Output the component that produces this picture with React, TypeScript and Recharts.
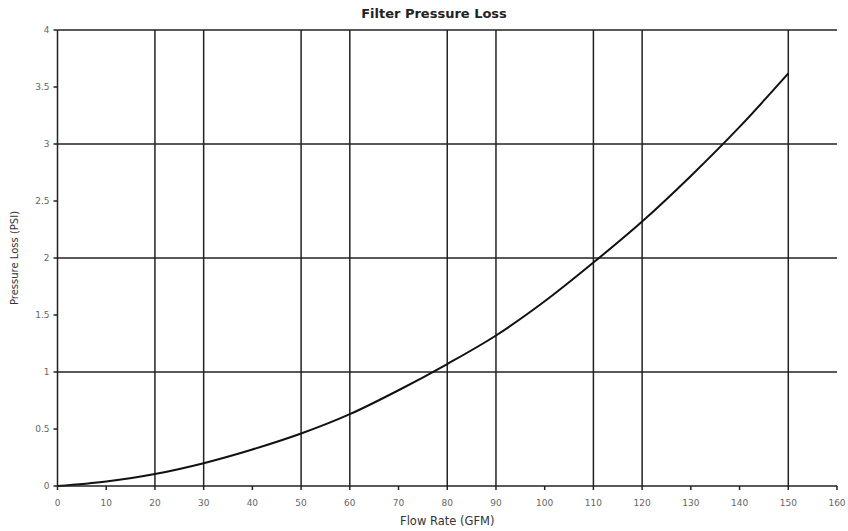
import React from 'react';
import { LineChart, Line, XAxis, YAxis, ReferenceLine } from 'recharts';

const flowRates = [0, 10, 20, 30, 40, 50, 60, 70, 80, 90, 100, 110, 120, 130, 140, 150];
const pressureLoss = [0, 0.04, 0.105, 0.2, 0.32, 0.46, 0.63, 0.84, 1.07, 1.32, 1.62, 1.96, 2.32, 2.72, 3.15, 3.62];

const xTicks = [0, 10, 20, 30, 40, 50, 60, 70, 80, 90, 100, 110, 120, 130, 140, 150, 160];
const yTicks = [0, 0.5, 1, 1.5, 2, 2.5, 3, 3.5, 4];
const xGridLines = [20, 30, 50, 60, 80, 90, 110, 120, 150];
const yGridLines = [1, 2, 3, 4];

const data = flowRates.map((gpm, i) => ({ gpm, psi: pressureLoss[i] }));

const ink = '#222';
const font = 'DejaVu Sans, sans-serif';
const tickStyle = { fill: '#666', fontSize: 9, fontFamily: font };

export default function App() {
  return (
    <div style={{ position: 'absolute', left: 0, top: 0, width: 848, height: 531, background: '#fff' }}>
      <div
        style={{
          position: 'absolute',
          top: 6,
          left: 0,
          width: 868,
          textAlign: 'center',
          fontFamily: font,
          fontSize: 13,
          fontWeight: 'bold',
          color: '#222',
        }}
      >
        Filter Pressure Loss
      </div>
      <LineChart width={848} height={531} data={data} margin={{ top: 30, right: 11, bottom: 0, left: 0 }}>
        <XAxis
          dataKey="gpm"
          type="number"
          domain={[0, 160]}
          ticks={xTicks}
          interval={0}
          tick={tickStyle}
          tickSize={4}
          tickMargin={10}
          height={45}
          axisLine={{ stroke: ink, strokeWidth: 1.5 }}
          tickLine={{ stroke: ink, strokeWidth: 1.5 }}
          label={{ value: 'Flow Rate (GFM)', position: 'insideBottom', offset: 6, fill: '#333', fontSize: 11.5, fontFamily: font }}
        />
        <YAxis
          type="number"
          domain={[0, 4]}
          ticks={yTicks}
          interval={0}
          width={57.5}
          tick={tickStyle}
          tickSize={4}
          tickMargin={4}
          axisLine={{ stroke: ink, strokeWidth: 1.5 }}
          tickLine={{ stroke: ink, strokeWidth: 1.5 }}
          label={{
            value: 'Pressure Loss (PSI)',
            angle: -90,
            position: 'insideLeft',
            offset: 14,
            fill: '#333',
            fontSize: 10,
            fontFamily: font,
            style: { textAnchor: 'middle' },
          }}
        />
        {yGridLines.map((v) => (
          <ReferenceLine key={`y${v}`} y={v} stroke={ink} strokeWidth={1.5} />
        ))}
        {xGridLines.map((v) => (
          <ReferenceLine key={`x${v}`} x={v} stroke={ink} strokeWidth={1.5} />
        ))}
        <Line
          type="monotone"
          dataKey="psi"
          stroke="#111"
          strokeWidth={2}
          dot={false}
          isAnimationActive={false}
        />
      </LineChart>
    </div>
  );
}
